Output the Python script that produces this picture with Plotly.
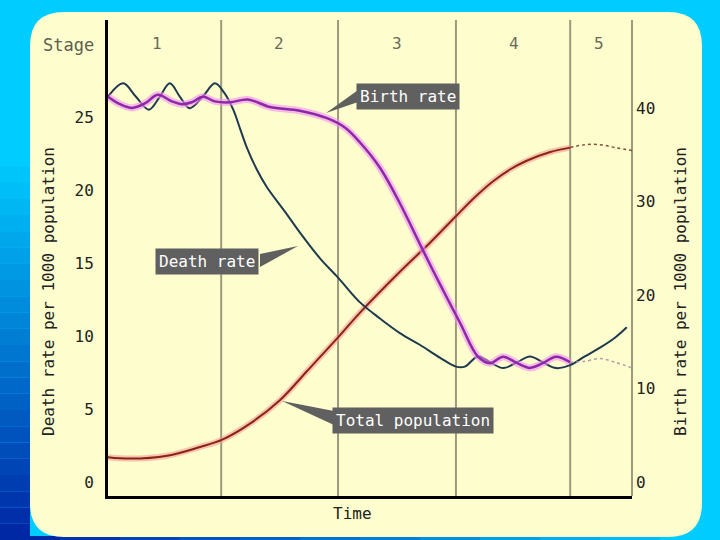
import plotly.graph_objects as go

# ---- data ----
stage_names = ['1', '2', '3', '4', '5']
stage_bounds = [21.6, 43.9, 66.4, 88.2]
stage_label_x = [9.4, 32.7, 55.1, 77.5, 93.7]

death_t = [0, 2.9, 5.3, 7.8, 9.9, 11.8, 13.7, 15.6, 18.1, 20.4, 22.1, 23.9, 25.2, 26.5, 28.4,
           30.3, 33.8, 36.6, 40.5, 43.9, 48.1, 51.9, 55.7, 59.5, 63.4, 66.4, 68.1, 70.6,
           72.9, 75.4, 78.1, 80.5, 83.0, 85.5, 88.2, 91.0, 93.9, 96.8, 99.0]
death_rate = [26.4, 27.3, 26.4, 25.5, 26.4, 27.3, 26.4, 25.6, 26.4, 27.3, 26.7, 25.5, 24.2, 22.9, 21.4,
              20.2, 18.5, 17.1, 15.3, 14.0, 12.3, 11.2, 10.2, 9.4, 8.5, 7.9, 7.9, 8.6,
              8.2, 7.8, 8.2, 8.6, 8.2, 7.8, 8.0, 8.6, 9.2, 9.9, 10.6]

birth_t = [0, 2.3, 4.6, 7.1, 9.5, 12.2, 14.1, 16.0, 18.1, 20.4, 23.3, 26.7, 30.9, 36.6, 41.8,
           45.2, 48.1, 51.9, 55.7, 59.9, 63.4, 67.2, 70.6, 72.9, 75.4, 78.1, 80.5, 83.0, 85.5, 88.2]
birth_rate = [41.2, 40.4, 40.0, 40.5, 41.4, 40.7, 40.4, 40.6, 41.2, 40.7, 40.6, 40.9, 40.1, 39.7, 38.9,
              37.9, 36.3, 33.6, 29.8, 25.0, 21.1, 17.0, 13.4, 12.7, 13.4, 12.7, 12.2, 12.7, 13.4, 12.8]
birth_future_t = [88.2, 91.0, 93.9, 96.8, 100]
birth_future = [12.8, 12.9, 13.2, 12.8, 12.2]

pop_t = [0, 4.2, 11.3, 17.6, 21.8, 27.1, 32.8, 38.0, 43.9, 48.1, 55.7, 61.5, 66.4, 70.0,
         73.5, 76.7, 79.9, 84.4, 88.2]
population = [1.7, 1.6, 1.8, 2.4, 2.9, 4.0, 5.6, 7.6, 9.9, 11.6, 14.4, 16.4, 18.2, 19.5,
              20.6, 21.4, 22.0, 22.6, 22.9]
pop_future_t = [88.2, 91.0, 93.9, 96.8, 100]
pop_future = [22.9, 23.1, 23.1, 22.9, 22.7]

left_ticks = [0, 5, 10, 15, 20, 25]
right_ticks = [0, 10, 20, 30, 40]

MONO = 'DejaVu Sans Mono'
L, R, T, B = 108, 632, 20, 496


def px(x):
    return (x - L) / (R - L)


def py(y):
    return (B - y) / (B - T)


fig = go.Figure()

# glows under the curves
fig.add_trace(go.Scatter(x=pop_t, y=population, mode='lines', yaxis='y',
                         line=dict(color='rgba(240,150,150,0.55)', width=6, shape='spline'),
                         hoverinfo='skip', showlegend=False))
fig.add_trace(go.Scatter(x=birth_t, y=birth_rate, mode='lines', yaxis='y2',
                         line=dict(color='rgba(245,140,245,0.6)', width=7, shape='spline'),
                         hoverinfo='skip', showlegend=False))

fig.add_trace(go.Scatter(x=pop_t, y=population, mode='lines', yaxis='y', name='Total population',
                         line=dict(color='#8b2414', width=2, shape='spline')))
fig.add_trace(go.Scatter(x=pop_future_t, y=pop_future, mode='lines', yaxis='y', showlegend=False,
                         line=dict(color='#8b4a3a', width=1.5, dash='dot', shape='spline')))
fig.add_trace(go.Scatter(x=death_t, y=death_rate, mode='lines', yaxis='y', name='Death rate',
                         line=dict(color='#1f3a50', width=2, shape='spline')))
fig.add_trace(go.Scatter(x=birth_t, y=birth_rate, mode='lines', yaxis='y2', name='Birth rate',
                         line=dict(color='#8a2aa8', width=2.5, shape='spline')))
fig.add_trace(go.Scatter(x=birth_future_t, y=birth_future, mode='lines', yaxis='y2', showlegend=False,
                         line=dict(color='#b79aa8', width=1.5, dash='dot', shape='spline')))

shapes = []

# left gradient strip of the slide background
c0, c1 = (0, 204, 255), (0, 40, 165)
n = 24
for i in range(n):
    f = i / (n - 1)
    col = 'rgb(%d,%d,%d)' % tuple(round(a + (b - a) * f) for a, b in zip(c0, c1))
    y0 = 150 + (540 - 150) * i / n
    y1 = 150 + (540 - 150) * (i + 1) / n
    shapes.append(dict(type='rect', xref='paper', yref='paper', layer='below',
                       x0=px(0), x1=px(30), y0=py(y1), y1=py(y0),
                       fillcolor=col, line=dict(width=0)))
for i in range(12):
    f = i / 11
    col = 'rgb(%d,%d,%d)' % tuple(round(b + (a - b) * f) for a, b in zip(c0, c1))
    shapes.append(dict(type='rect', xref='paper', yref='paper', layer='below',
                       x0=px(60 * i), x1=px(60 * (i + 1)), y0=py(540), y1=py(536),
                       fillcolor=col, line=dict(width=0)))

# rounded yellow card
cx0, cx1, cy0, cy1, r = 30, 702, 12, 537, 34
card = ('M {a},{b} L {c},{b} Q {d},{b} {d},{e} L {d},{f} Q {d},{g} {c},{g} '
        'L {a},{g} Q {h},{g} {h},{f} L {h},{e} Q {h},{b} {a},{b} Z').format(
    a=px(cx0 + r), b=py(cy0), c=px(cx1 - r), d=px(cx1), e=py(cy0 + r),
    f=py(cy1 - r), g=py(cy1), h=px(cx0))
shapes.append(dict(type='path', xref='paper', yref='paper', layer='below', path=card,
                   fillcolor='#fdfdcd', line=dict(width=0)))

# stage dividers and right frame line
for xb in stage_bounds:
    shapes.append(dict(type='line', xref='x', yref='paper', x0=xb, x1=xb, y0=0, y1=1,
                       line=dict(color='#9c9a7c', width=2), layer='below'))
shapes.append(dict(type='line', xref='paper', yref='paper', x0=1, x1=1, y0=0, y1=1,
                   line=dict(color='#9c9a7c', width=2), layer='below'))


def wedge(pts):
    p = 'M ' + ' L '.join('%f,%f' % (px(x), py(y)) for x, y in pts) + ' Z'
    return dict(type='path', xref='paper', yref='paper', path=p,
                fillcolor='#606060', line=dict(width=0))


shapes.append(wedge([(361, 88), (361, 101), (326, 113)]))
shapes.append(wedge([(260, 254), (260, 267), (298, 246)]))
shapes.append(wedge([(334, 411), (334, 425), (282, 401)]))

C = dict(xanchor='center', yanchor='middle', showarrow=False)
annotations = []
for name, xs in zip(stage_names, stage_label_x):
    annotations.append(dict(x=xs, y=py(43), xref='x', yref='paper', text=name, **C,
                            font=dict(family=MONO, size=16, color='#6a6a5a')))
annotations.append(dict(x=px(68), y=py(45), xref='paper', yref='paper', text='Stage', **C,
                        font=dict(family=MONO, size=17, color='#5e5e50')))
annotations.append(dict(x=px(352), y=py(513), xref='paper', yref='paper', text='Time', **C,
                        font=dict(family=MONO, size=16, color='#222')))
annotations.append(dict(x=px(48), y=py(292), xref='paper', yref='paper', textangle=-90,
                        text='Death rate per 1000 population', **C,
                        font=dict(family=MONO, size=16, color='#222')))
annotations.append(dict(x=px(680), y=py(292), xref='paper', yref='paper', textangle=-90,
                        text='Birth rate per 1000 population', **C,
                        font=dict(family=MONO, size=16, color='#222')))
for text, (x, y) in [('Birth rate', (408, 97)), ('Death rate', (207, 261)),
                     ('Total population', (413, 420))]:
    annotations.append(dict(x=px(x), y=py(y), xref='paper', yref='paper', text=text, **C,
                            bgcolor='#606060', borderpad=3,
                            font=dict(family=MONO, size=16, color='white')))

fig.update_layout(
    width=720, height=540,
    margin=dict(l=L, r=720 - R, t=T, b=540 - B),
    paper_bgcolor='#00ccff', plot_bgcolor='rgba(0,0,0,0)',
    showlegend=False,
    xaxis=dict(range=[0, 100], showticklabels=False, ticks='', showgrid=False, zeroline=False,
               showline=True, linecolor='black', linewidth=3),
    yaxis=dict(range=[-0.96, 31.64], tickvals=left_ticks, ticks='', showgrid=False,
               zeroline=False, showline=True, linecolor='black', linewidth=3,
               ticklabelstandoff=8, tickfont=dict(family=MONO, size=16, color='#222')),
    yaxis2=dict(range=[-1.5, 49.4], tickvals=right_ticks, ticks='', showgrid=False,
                zeroline=False, overlaying='y', side='right', showline=False,
                ticklabelstandoff=3, tickfont=dict(family=MONO, size=16, color='#222')),
    shapes=shapes, annotations=annotations,
)

fig.write_html('out.html', config={'displayModeBar': False},
               post_script="document.body.style.margin='0';")
